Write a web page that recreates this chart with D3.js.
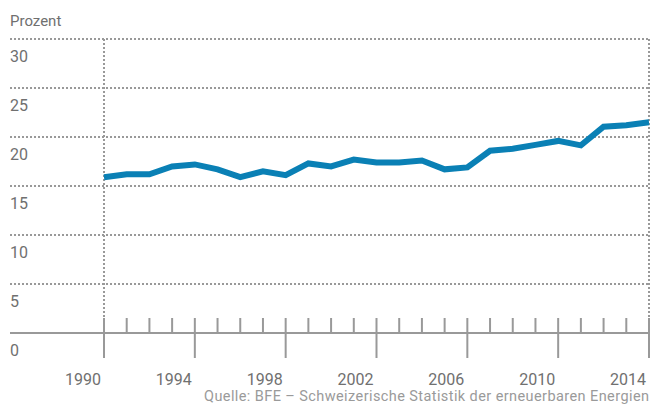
<!DOCTYPE html>
<html><head><meta charset="utf-8">
<script src="https://cdn.jsdelivr.net/npm/d3@7/dist/d3.min.js"></script>
<style>
html,body{margin:0;padding:0;background:#fff;}
svg{display:block;font-family:Roboto, "Noto Sans", sans-serif;}
</style></head>
<body>
<svg id="chart" width="652" height="405"></svg>
<script>
const years = [1990,1991,1992,1993,1994,1995,1996,1997,1998,1999,2000,2001,2002,2003,2004,2005,2006,2007,2008,2009,2010,2011,2012,2013,2014];
const values = [15.9,16.2,16.2,17.0,17.2,16.7,15.9,16.5,16.1,17.3,17.0,17.7,17.4,17.4,17.6,16.7,16.9,18.6,18.8,19.2,19.6,19.15,21.05,21.2,21.5];
const yTicks = [0,5,10,15,20,25,30];
const xLabels = [1990,1994,1998,2002,2006,2010,2014];
const yTitle = "Prozent";
const source = "Quelle: BFE – Schweizerische Statistik der erneuerbaren Energien";

const svg = d3.select("#chart");
const x = d3.scaleLinear().domain([1990,2014]).range([104,649]);
const y = d3.scaleLinear().domain([0,30]).range([333,39]);
const left = 10, right = 650;

// gridlines
svg.append("g").selectAll("line").data(yTicks.filter(d=>d>0)).join("line")
  .attr("x1",left).attr("x2",right)
  .attr("y1",d=>y(d)).attr("y2",d=>y(d))
  .attr("stroke","#999").attr("stroke-width",2).attr("stroke-dasharray","2,2");
// vertical dotted lines
svg.append("g").selectAll("line").data([1990,2014]).join("line")
  .attr("x1",d=>x(d)).attr("x2",d=>x(d))
  .attr("y1",y(30)).attr("y2",y(0))
  .attr("stroke","#999").attr("stroke-width",2).attr("stroke-dasharray","2,2");

// y labels
svg.append("g").selectAll("text").data(yTicks).join("text")
  .attr("x",left).attr("y",d=>y(d)+23)
  .attr("fill","#707070").attr("font-size",16).text(d=>d);
svg.append("text").attr("x",left).attr("y",26).attr("fill","#707070").attr("font-size",15).text(yTitle);

// axis
svg.append("line").attr("x1",left).attr("x2",right).attr("y1",y(0)).attr("y2",y(0))
  .attr("stroke","#999").attr("stroke-width",2);
svg.append("g").selectAll("line").data(years).join("line")
  .attr("x1",d=>x(d)).attr("x2",d=>x(d))
  .attr("y1",y(0)-15).attr("y2",d=>xLabels.includes(d)?y(0)+25:y(0))
  .attr("stroke","#999").attr("stroke-width",2);
svg.append("g").selectAll("text").data(xLabels).join("text")
  .attr("x",d=>x(d)-3).attr("y",385).attr("text-anchor","end")
  .attr("fill","#707070").attr("font-size",16).text(d=>d);

// line
svg.append("path").datum(years.map((d,i)=>[d,values[i]]))
  .attr("d",d3.line().x(d=>x(d[0])).y(d=>y(d[1])))
  .attr("fill","none").attr("stroke","#0a80b5").attr("stroke-width",6).attr("stroke-linejoin","miter");

svg.append("text").attr("x",649).attr("y",401).attr("text-anchor","end")
  .attr("fill","#9a9a9a").attr("font-size",14.5).attr("textLength",445).attr("lengthAdjust","spacing").text(source);
</script>
</body></html>
